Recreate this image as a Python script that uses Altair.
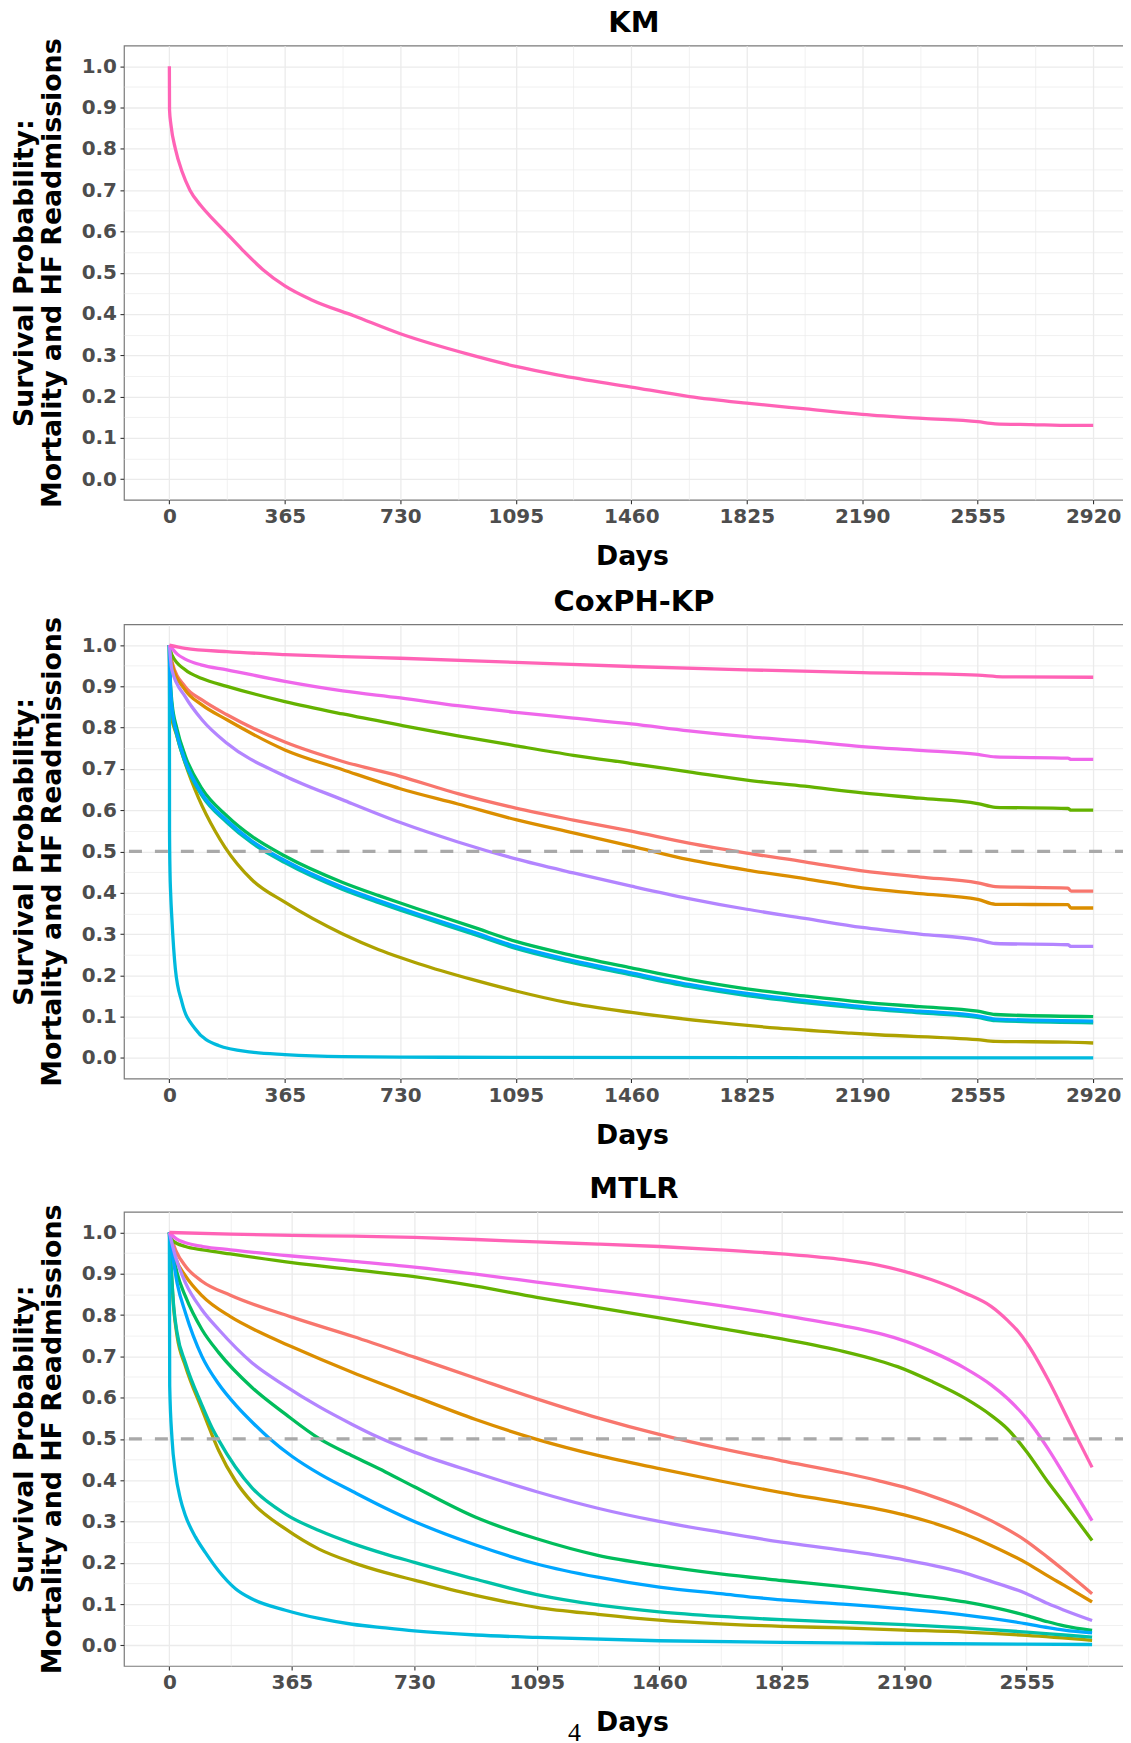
import altair as alt
import pandas as pd

FONT = "DejaVu Sans"

# ------------------------------------------------------------------ data
SERIES = ["S01", "S02", "S03", "S04", "S05", "S06", "S07", "S08", "S09", "S10", "S11"]
COLORS = ["#F8766D", "#DB8E00", "#AEA200", "#64B200", "#00BD5C", "#00C1A7",
          "#00BADE", "#00A6FF", "#B385FF", "#EF67EB", "#FF63B6"]
KM_COLOR = "#FF63B6"

X_TICKS_FULL = [0, 365, 730, 1095, 1460, 1825, 2190, 2555, 2920]
X_TICKS_MTLR = [0, 365, 730, 1095, 1460, 1825, 2190, 2555]
X_MINOR = [182.5, 547.5, 912.5, 1277.5, 1642.5, 2007.5, 2372.5, 2737.5]
Y_TICKS = [0.0, 0.1, 0.2, 0.3, 0.4, 0.5, 0.6, 0.7, 0.8, 0.9, 1.0]
Y_MINOR = [0.05, 0.15, 0.25, 0.35, 0.45, 0.55, 0.65, 0.75, 0.85, 0.95]
HALF = [0.5]
PAGE_NUMBER = ["4"]

KM_CURVE = [(0, 1.0), (0.5, 0.894), (5, 0.858), (19, 0.800), (40, 0.745), (65, 0.700),
            (100, 0.662), (140, 0.628), (174, 0.601), (230, 0.556), (295, 0.508),
            (365, 0.468), (450, 0.434), (585, 0.395), (730, 0.352), (947, 0.302),
            (1095, 0.273), (1230, 0.252), (1460, 0.223), (1644, 0.200), (1825, 0.184),
            (2012, 0.170), (2190, 0.157), (2380, 0.147), (2555, 0.139), (2610, 0.134),
            (2725, 0.132), (2852, 0.130), (2920, 0.130)]

COX_S01 = [(0, 1.0), (8, 0.96), (50, 0.899), (103, 0.867), (182, 0.831), (365, 0.765),
           (548, 0.718), (730, 0.682), (912, 0.640), (1095, 0.605), (1277, 0.576),
           (1460, 0.549), (1642, 0.520), (1825, 0.496), (2008, 0.475), (2190, 0.453),
           (2372, 0.438), (2555, 0.424), (2611, 0.415), (2840, 0.411), (2850, 0.404),
           (2920, 0.404)]
COX_S02 = [(0, 1.0), (8, 0.955), (50, 0.891), (103, 0.855), (182, 0.819), (365, 0.746),
           (548, 0.698), (730, 0.652), (912, 0.615), (1095, 0.577), (1277, 0.545),
           (1460, 0.513), (1642, 0.480), (1825, 0.455), (2008, 0.434), (2190, 0.412),
           (2372, 0.398), (2555, 0.384), (2611, 0.372), (2840, 0.371), (2850, 0.363),
           (2920, 0.363)]
COX_S03 = [(0, 1.0), (1, 0.851), (24, 0.779), (50, 0.714), (92, 0.630), (145, 0.549),
           (176, 0.510), (260, 0.432), (365, 0.377), (548, 0.300), (662, 0.262),
           (730, 0.243), (788, 0.228), (956, 0.190), (1095, 0.162), (1251, 0.135),
           (1461, 0.110), (1713, 0.087), (1924, 0.072), (2155, 0.060), (2239, 0.056),
           (2555, 0.044), (2611, 0.040), (2840, 0.038), (2920, 0.036)]
COX_S04 = [(0, 1.0), (8, 0.976), (50, 0.940), (103, 0.919), (182, 0.900), (365, 0.863),
           (548, 0.833), (730, 0.806), (912, 0.780), (1095, 0.756), (1277, 0.733),
           (1460, 0.713), (1642, 0.693), (1825, 0.673), (2008, 0.658), (2190, 0.642),
           (2372, 0.629), (2555, 0.616), (2611, 0.607), (2840, 0.604), (2850, 0.600),
           (2920, 0.600)]
COX_S05 = [(0, 1.0), (1, 0.956), (8, 0.862), (24, 0.797), (50, 0.732), (103, 0.652),
           (182, 0.586), (260, 0.537), (365, 0.489), (548, 0.425), (662, 0.393),
           (730, 0.375), (788, 0.360), (956, 0.318), (1095, 0.282), (1251, 0.252),
           (1460, 0.218), (1642, 0.190), (1825, 0.167), (2008, 0.150), (2190, 0.135),
           (2372, 0.124), (2555, 0.113), (2611, 0.105), (2920, 0.100)]
COX_S06 = [(0, 1.0), (1, 0.945), (8, 0.845), (24, 0.780), (50, 0.715), (103, 0.635),
           (182, 0.570), (260, 0.521), (365, 0.473), (548, 0.408), (662, 0.376),
           (730, 0.358), (788, 0.343), (956, 0.301), (1095, 0.265), (1251, 0.235),
           (1460, 0.201), (1642, 0.173), (1825, 0.151), (2008, 0.134), (2190, 0.120),
           (2372, 0.109), (2555, 0.098), (2611, 0.090), (2920, 0.085)]
COX_S07 = [(0, 1.0), (0.5, 0.55), (2, 0.45), (4, 0.40), (8, 0.336), (19, 0.215),
           (40, 0.134), (82, 0.070), (155, 0.030), (260, 0.014), (365, 0.008),
           (548, 0.003), (730, 0.002), (1095, 0.001), (2920, 0.0)]
COX_S08 = [(0, 1.0), (1, 0.950), (8, 0.850), (24, 0.785), (50, 0.720), (103, 0.640),
           (182, 0.575), (260, 0.526), (365, 0.478), (548, 0.413), (662, 0.381),
           (730, 0.363), (788, 0.348), (956, 0.306), (1095, 0.270), (1251, 0.240),
           (1460, 0.206), (1642, 0.178), (1825, 0.156), (2008, 0.139), (2190, 0.124),
           (2372, 0.113), (2555, 0.102), (2611, 0.094), (2920, 0.089)]
COX_S09 = [(0, 1.0), (8, 0.940), (50, 0.875), (103, 0.819), (182, 0.762), (365, 0.683),
           (548, 0.625), (730, 0.570), (912, 0.523), (1095, 0.482), (1277, 0.448),
           (1460, 0.416), (1642, 0.386), (1825, 0.360), (2008, 0.338), (2190, 0.316),
           (2372, 0.300), (2555, 0.286), (2611, 0.277), (2840, 0.274), (2850, 0.270),
           (2920, 0.270)]
COX_S10 = [(0, 1.0), (25, 0.978), (50, 0.966), (100, 0.952), (182, 0.940), (365, 0.912),
           (548, 0.889), (730, 0.872), (912, 0.853), (1095, 0.837), (1277, 0.823),
           (1460, 0.809), (1642, 0.792), (1825, 0.778), (2008, 0.767), (2190, 0.754),
           (2372, 0.745), (2555, 0.735), (2611, 0.729), (2840, 0.726), (2850, 0.723),
           (2920, 0.723)]
COX_S11 = [(0, 1.0), (50, 0.992), (182, 0.984), (365, 0.977), (548, 0.972), (730, 0.968),
           (1095, 0.958), (1460, 0.948), (1825, 0.940), (2190, 0.933), (2555, 0.927),
           (2633, 0.923), (2920, 0.922)]

MTLR_S01 = [(0, 1.0), (20, 0.955), (48, 0.918), (97, 0.882), (182, 0.848), (365, 0.795),
            (548, 0.748), (730, 0.698), (913, 0.647), (1095, 0.597), (1277, 0.551),
            (1460, 0.511), (1642, 0.477), (1825, 0.447), (2008, 0.418), (2112, 0.399),
            (2190, 0.383), (2270, 0.362), (2372, 0.331), (2449, 0.302), (2555, 0.252),
            (2618, 0.213), (2667, 0.181), (2750, 0.125)]
MTLR_S02 = [(0, 1.0), (20, 0.935), (48, 0.895), (97, 0.847), (182, 0.796), (265, 0.760),
            (365, 0.723), (548, 0.660), (730, 0.603), (913, 0.547), (1095, 0.499),
            (1277, 0.460), (1460, 0.428), (1642, 0.398), (1825, 0.370), (2008, 0.345),
            (2112, 0.330), (2190, 0.316), (2270, 0.298), (2372, 0.269), (2449, 0.242),
            (2555, 0.199), (2618, 0.168), (2667, 0.145), (2750, 0.105)]
MTLR_S03 = [(0, 1.0), (13, 0.815), (23, 0.749), (48, 0.676), (97, 0.572), (127, 0.510),
            (147, 0.472), (197, 0.398), (247, 0.346), (346, 0.282), (446, 0.233),
            (545, 0.201), (644, 0.176), (730, 0.158), (913, 0.121), (1095, 0.092),
            (1277, 0.075), (1460, 0.061), (1642, 0.052), (1825, 0.046), (2008, 0.042),
            (2190, 0.037), (2372, 0.032), (2555, 0.024), (2750, 0.012)]
MTLR_S04 = [(0, 1.0), (10, 0.980), (48, 0.966), (100, 0.958), (182, 0.948), (365, 0.927),
            (548, 0.910), (730, 0.893), (913, 0.870), (1095, 0.843), (1277, 0.818),
            (1460, 0.793), (1642, 0.768), (1825, 0.742), (2008, 0.712), (2112, 0.690),
            (2170, 0.675), (2270, 0.640), (2372, 0.598), (2449, 0.557), (2498, 0.524),
            (2555, 0.469), (2618, 0.396), (2667, 0.344), (2750, 0.254)]
MTLR_S05 = [(0, 1.0), (23, 0.902), (48, 0.845), (97, 0.765), (147, 0.709), (247, 0.624),
            (346, 0.560), (448, 0.500), (548, 0.458), (644, 0.420), (730, 0.384),
            (913, 0.310), (1095, 0.258), (1277, 0.218), (1460, 0.193), (1642, 0.173),
            (1825, 0.157), (2008, 0.142), (2190, 0.125), (2372, 0.105), (2449, 0.093),
            (2555, 0.072), (2618, 0.057), (2667, 0.047), (2750, 0.036)]
MTLR_S06 = [(0, 1.0), (13, 0.820), (23, 0.757), (48, 0.684), (97, 0.582), (127, 0.527),
            (147, 0.497), (197, 0.432), (247, 0.381), (346, 0.318), (446, 0.278),
            (545, 0.247), (644, 0.221), (730, 0.201), (913, 0.160), (1095, 0.123),
            (1277, 0.098), (1460, 0.081), (1642, 0.070), (1825, 0.062), (2008, 0.056),
            (2190, 0.050), (2372, 0.042), (2555, 0.032), (2667, 0.025), (2750, 0.020)]
MTLR_S07 = [(0, 1.0), (1, 0.628), (8, 0.499), (18, 0.419), (33, 0.354), (48, 0.314),
            (78, 0.262), (107, 0.225), (147, 0.180), (197, 0.137), (247, 0.112),
            (346, 0.085), (446, 0.065), (545, 0.051), (644, 0.042), (730, 0.035),
            (913, 0.025), (1095, 0.019), (1460, 0.011), (1825, 0.007), (2112, 0.005),
            (2750, 0.002)]
MTLR_S08 = [(0, 1.0), (23, 0.878), (48, 0.805), (97, 0.700), (147, 0.633), (200, 0.580),
            (250, 0.538), (300, 0.500), (365, 0.458), (450, 0.414), (548, 0.372),
            (640, 0.334), (730, 0.300), (913, 0.243), (1095, 0.197), (1277, 0.165),
            (1460, 0.141), (1642, 0.125), (1825, 0.110), (2008, 0.100), (2190, 0.088),
            (2372, 0.073), (2449, 0.065), (2555, 0.052), (2618, 0.043), (2667, 0.037),
            (2750, 0.030)]
MTLR_S09 = [(0, 1.0), (18, 0.942), (48, 0.878), (97, 0.813), (147, 0.765), (247, 0.684),
            (346, 0.628), (446, 0.578), (545, 0.535), (620, 0.505), (730, 0.468),
            (913, 0.418), (1095, 0.372), (1277, 0.332), (1460, 0.300), (1642, 0.274),
            (1825, 0.250), (2008, 0.230), (2190, 0.207), (2372, 0.175), (2449, 0.155),
            (2555, 0.125), (2618, 0.101), (2667, 0.085), (2750, 0.060)]
MTLR_S10 = [(0, 1.0), (20, 0.985), (48, 0.975), (100, 0.966), (182, 0.958), (365, 0.943),
            (548, 0.930), (730, 0.916), (913, 0.899), (1095, 0.880), (1277, 0.861),
            (1460, 0.843), (1642, 0.823), (1825, 0.800), (2008, 0.774), (2112, 0.756),
            (2170, 0.743), (2270, 0.712), (2372, 0.671), (2449, 0.631), (2498, 0.598),
            (2555, 0.549), (2618, 0.477), (2667, 0.413), (2750, 0.302)]
MTLR_S11 = [(0, 1.0), (182, 0.996), (365, 0.993), (548, 0.991), (730, 0.988), (913, 0.983),
            (1095, 0.977), (1277, 0.972), (1460, 0.966), (1642, 0.958), (1825, 0.948),
            (2008, 0.934), (2112, 0.921), (2190, 0.906), (2270, 0.886), (2372, 0.853),
            (2449, 0.821), (2498, 0.787), (2530, 0.760), (2555, 0.733), (2618, 0.645),
            (2667, 0.566), (2707, 0.500), (2750, 0.431)]

COX_CURVES = [COX_S01, COX_S02, COX_S03, COX_S04, COX_S05, COX_S06,
              COX_S07, COX_S08, COX_S09, COX_S10, COX_S11]
MTLR_CURVES = [MTLR_S01, MTLR_S02, MTLR_S03, MTLR_S04, MTLR_S05, MTLR_S06,
               MTLR_S07, MTLR_S08, MTLR_S09, MTLR_S10, MTLR_S11]


def to_frame(names, curves):
    rows = []
    for name, pts in zip(names, curves):
        for d, s in pts:
            rows.append({"series": name, "day": d, "surv": s})
    return pd.DataFrame(rows)


km_df = to_frame(["KM"], [KM_CURVE])
cox_df = to_frame(SERIES, COX_CURVES)
mtlr_df = to_frame(SERIES, MTLR_CURVES)
half_df = pd.DataFrame({"h": HALF})
page_df = pd.DataFrame({"t": PAGE_NUMBER})

# ------------------------------------------------------------------ style
PLOT_W = 1006
PLOT_H = 455
Y_TITLE = ["Survival Probability:", "Mortality and HF Readmissions"]

X_MAJOR_TEST = "datum.value % 365 === 0"
Y_MAJOR_TEST = "abs(datum.value * 10 - round(datum.value * 10)) < 0.001"


def x_axis(major):
    return alt.Axis(
        values=sorted(major + X_MINOR), title="Days", format="d",
        labelExpr=f"{X_MAJOR_TEST} ? datum.label : ''",
        grid=True, gridColor="#EBEBEB",
        gridWidth={"condition": {"test": X_MAJOR_TEST, "value": 1.3}, "value": 0.7},
        tickOpacity={"condition": {"test": X_MAJOR_TEST, "value": 1}, "value": 0},
        titleX=509,
    )


def y_axis():
    return alt.Axis(
        values=sorted(Y_TICKS + Y_MINOR), title=Y_TITLE, format=".1f",
        labelExpr=f"{Y_MAJOR_TEST} ? datum.label : ''",
        grid=True, gridColor="#EBEBEB",
        gridWidth={"condition": {"test": Y_MAJOR_TEST, "value": 1.3}, "value": 0.7},
        tickOpacity={"condition": {"test": Y_MAJOR_TEST, "value": 1}, "value": 0},
    )


def panel(df, title, x_domain, x_major, multi, with_half, with_page=False):
    xs = alt.Scale(domain=x_domain, nice=False, zero=False)
    ys = alt.Scale(domain=[-0.05, 1.05], nice=False, zero=False)
    enc = dict(
        x=alt.X("day:Q", scale=xs, axis=x_axis(x_major)),
        y=alt.Y("surv:Q", scale=ys, axis=y_axis()),
    )
    if multi:
        lines = alt.Chart(df).mark_line(strokeWidth=3.3, interpolate="monotone").encode(
            color=alt.Color("series:N", scale=alt.Scale(domain=SERIES, range=COLORS), legend=None),
            **enc)
    else:
        lines = alt.Chart(df).mark_line(strokeWidth=3.3, interpolate="monotone",
                                        color=KM_COLOR).encode(**enc)
    layers = [lines]
    if with_half:
        rule = alt.Chart(half_df).mark_rule(color="#A9A9A9", strokeWidth=3.3,
                                            strokeDash=[13, 13]).encode(
            y=alt.Y("h:Q", scale=ys, axis=y_axis()))
        layers.append(rule)
    if with_page:
        page = alt.Chart(page_df).mark_text(font="Liberation Serif", fontSize=26,
                                            baseline="top", align="center",
                                            color="black").encode(
            x=alt.value(451.5), y=alt.value(509), text="t:N")
        layers.append(page)
    return alt.layer(*layers).properties(
        width=PLOT_W, height=PLOT_H,
        title=alt.TitleParams(text=title, font=FONT, fontSize=29, fontWeight="bold",
                              color="black", anchor="middle", offset=0, dx=8),
    )


km = panel(km_df, "KM", [-143.5, 3030], X_TICKS_FULL, False, False)
cox = panel(cox_df, "CoxPH-KP", [-143.5, 3030], X_TICKS_FULL, True, True)
mtlr = panel(mtlr_df, "MTLR", [-135.3, 2857], X_TICKS_MTLR, True, True, with_page=True)

chart = alt.vconcat(
    km, alt.vconcat(cox, mtlr, spacing=23.6), spacing=14.9
).properties(
    padding={"left": 2.2, "top": -2.0, "right": -8, "bottom": 0},
    background="white",
).configure_view(
    stroke="#7A7A7A", strokeWidth=1.2,
).configure_axis(
    labelFont=FONT, labelFontSize=20, labelFontWeight="bold", labelColor="#4D4D4D",
    titleFont=FONT, titleFontSize=26.8, titleFontWeight="bold", titleColor="black",
    domain=False, tickColor="#333333", tickSize=4, tickWidth=1.1,
    labelFlush=False, labelOverlap=False, labelBound=False,
).configure_axisX(
    labelPadding=3, titlePadding=17,
).configure_axisY(
    labelPadding=3.5, titlePadding=14.7, titleLineHeight=28,
)

chart.save("out.html", embed_options={"renderer": "svg", "actions": False})
